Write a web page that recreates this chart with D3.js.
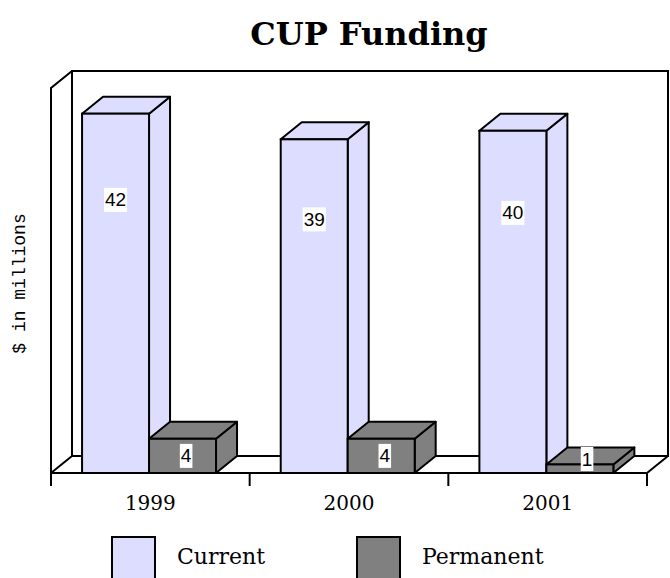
<!DOCTYPE html>
<html>
<head>
<meta charset="utf-8">
<script src="https://cdn.jsdelivr.net/npm/d3@7"></script>
<style>
  body { margin: 0; background: #fff; }
</style>
</head>
<body>
<script>
// Chart data
const years = ["1999", "2000", "2001"];
const seriesNames = ["Current", "Permanent"];
const currentValues = [42, 39, 40];
const permanentValues = [4, 4, 1];
const seriesColors = ["#ddddff", "#808080"];

// Layout constants
const WIDTH = 670;
const HEIGHT = 578;
const PLOT_LEFT = 51;
const PLOT_RIGHT = 647;
const BASE_Y = 473;
const TOP_Y = 88;
const DEPTH_X = 21;
const DEPTH_Y = 17;
const TICK_LEN = 13;
const Y_MAX = 45;
const LINE = "#000";

var svg = d3.select("body").append("svg")
  .attr("width", WIDTH)
  .attr("height", HEIGHT);

var x0 = d3.scaleBand()
  .domain(years)
  .range([PLOT_LEFT, PLOT_RIGHT])
  .paddingInner(0)
  .paddingOuter(0);

var x1 = d3.scaleBand()
  .domain(seriesNames)
  .range([0, x0.bandwidth()])
  .paddingInner(0)
  .paddingOuter(0.483)
  .align(0.48);

var y = d3.scaleLinear()
  .domain([0, Y_MAX])
  .range([BASE_Y, TOP_Y]);

var color = d3.scaleOrdinal().domain(seriesNames).range(seriesColors);

// Title
svg.append("text")
  .attr("x", 369)
  .attr("y", 45)
  .attr("text-anchor", "middle")
  .style("font-family", "'DejaVu Serif', serif")
  .style("font-weight", "bold")
  .style("font-size", "32px")
  .text("CUP Funding");

// Y axis title
svg.append("text")
  .attr("transform", "translate(25," + ((TOP_Y + BASE_Y) / 2 + 3) + ") rotate(-90)")
  .attr("text-anchor", "middle")
  .style("font-family", "'Liberation Mono', monospace")
  .style("font-size", "18px")
  .text("$ in millions");

// Walls and floor
var walls = svg.append("g").attr("class", "walls")
  .attr("fill", "none")
  .attr("stroke", LINE)
  .attr("stroke-width", 2);

var backTop = y(Y_MAX) - DEPTH_Y;
var backBase = BASE_Y - DEPTH_Y;
var bl = PLOT_LEFT + DEPTH_X;
var br = PLOT_RIGHT + DEPTH_X;

walls.append("path")
  .attr("d", "M" + bl + "," + backBase + "V" + backTop + "H" + br + "V" + backBase + "H" + bl);
// side wall
walls.append("path")
  .attr("d", "M" + PLOT_LEFT + "," + (BASE_Y + TICK_LEN) + "V" + y(Y_MAX) + "L" + bl + "," + backTop);
// floor edges
walls.append("path")
  .attr("d", "M" + PLOT_LEFT + "," + BASE_Y + "L" + bl + "," + backBase);
walls.append("path")
  .attr("d", "M" + PLOT_RIGHT + "," + BASE_Y + "L" + br + "," + backBase);

// Bars
var rows = years.map(function(yr, i) {
  return {year: yr, values: [currentValues[i], permanentValues[i]]};
});

var bars = [];
rows.forEach(function(r) {
  seriesNames.forEach(function(s, j) {
    bars.push({year: r.year, series: s, value: r.values[j]});
  });
});

var barG = svg.append("g").attr("class", "bars");

bars.forEach(function(b) {
  var bx = x0(b.year) + x1(b.series);
  var bw = x1.bandwidth();
  var top = y(b.value);
  var g = barG.append("g").attr("class", "bar");
  var fill = color(b.series);

  // side face
  g.append("path")
    .attr("d", "M" + (bx + bw) + "," + BASE_Y +
      "L" + (bx + bw + DEPTH_X) + "," + (BASE_Y - DEPTH_Y) +
      "L" + (bx + bw + DEPTH_X) + "," + (top - DEPTH_Y) +
      "L" + (bx + bw) + "," + top + "Z")
    .attr("fill", fill).attr("stroke", LINE).attr("stroke-width", 2)
    .attr("stroke-linejoin", "round");
  // top face
  g.append("path")
    .attr("d", "M" + bx + "," + top +
      "L" + (bx + DEPTH_X) + "," + (top - DEPTH_Y) +
      "L" + (bx + bw + DEPTH_X) + "," + (top - DEPTH_Y) +
      "L" + (bx + bw) + "," + top + "Z")
    .attr("fill", fill).attr("stroke", LINE).attr("stroke-width", 2)
    .attr("stroke-linejoin", "round");
  // front face
  g.append("rect")
    .attr("x", bx).attr("y", top)
    .attr("width", bw).attr("height", BASE_Y - top)
    .attr("fill", fill).attr("stroke", LINE).attr("stroke-width", 2);
});

// Category axis
var axis = svg.append("g").attr("class", "x-axis")
  .attr("stroke", LINE).attr("stroke-width", 2);
axis.append("line")
  .attr("x1", PLOT_LEFT).attr("x2", PLOT_RIGHT)
  .attr("y1", BASE_Y).attr("y2", BASE_Y);
years.concat([null]).forEach(function(yr) {
  var tx = yr === null ? PLOT_RIGHT : x0(yr);
  axis.append("line")
    .attr("x1", tx).attr("x2", tx)
    .attr("y1", BASE_Y).attr("y2", BASE_Y + TICK_LEN);
});

svg.append("g").selectAll("text")
  .data(years)
  .join("text")
  .attr("x", function(d) { return x0(d) + x0.bandwidth() / 2; })
  .attr("y", 510)
  .attr("text-anchor", "middle")
  .style("font-family", "'DejaVu Serif', serif")
  .style("font-size", "20px")
  .text(function(d) { return d; });

// Value labels (white boxes)
var labelG = svg.append("g").attr("class", "labels");
bars.forEach(function(b) {
  var bx = x0(b.year) + x1(b.series);
  var bw = x1.bandwidth();
  var h = BASE_Y - y(b.value);
  var cx, cy;
  if (h > 60) {
    cx = bx + bw / 2;
    cy = y(b.value * 0.76);
  } else {
    cx = bx + bw / 2 + DEPTH_X * 0.4 * (1 - h / 60);
    cy = Math.min((y(b.value) + BASE_Y) / 2, BASE_Y - 14);
  }
  var t = labelG.append("text")
    .attr("x", cx)
    .attr("y", cy)
    .attr("text-anchor", "middle")
    .attr("dominant-baseline", "central")
    .style("font-family", "'Liberation Sans', Arial, sans-serif")
    .style("font-size", "19px")
    .text(b.value);
  var tw = t.node().getComputedTextLength();
  labelG.insert("rect", function() { return t.node(); })
    .attr("x", cx - tw / 2 - 1)
    .attr("y", cy - 12)
    .attr("width", tw + 2)
    .attr("height", 24)
    .attr("fill", "#fff");
});

// Legend
var legendX = [112, 357];
var legend = svg.append("g").attr("class", "legend");
seriesNames.forEach(function(s, i) {
  legend.append("rect")
    .attr("x", legendX[i]).attr("y", 537)
    .attr("width", 43).attr("height", 43)
    .attr("fill", color(s))
    .attr("stroke", LINE).attr("stroke-width", 2);
  legend.append("text")
    .attr("x", legendX[i] + 65)
    .attr("y", 564)
    .style("font-family", "'DejaVu Serif', serif")
    .style("font-size", "22px")
    .text(s);
});
</script>
</body>
</html>
